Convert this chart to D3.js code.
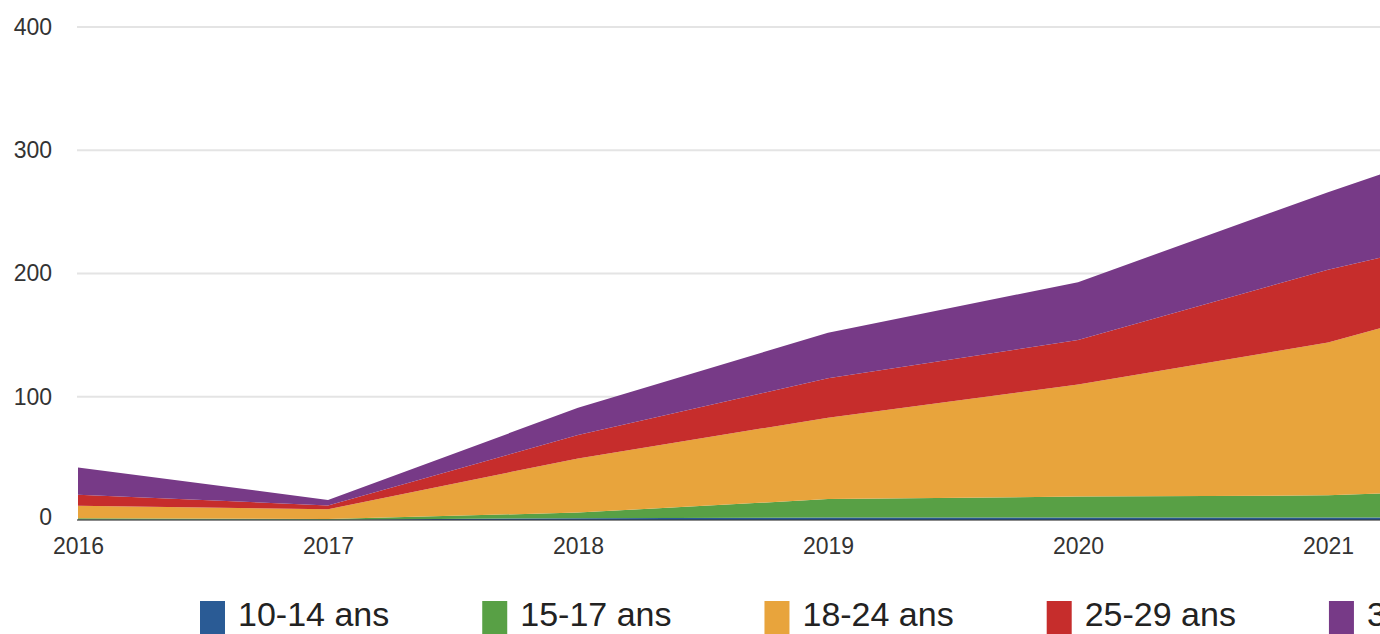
<!DOCTYPE html>
<html>
<head>
<meta charset="utf-8">
<script src="https://cdn.jsdelivr.net/npm/d3@7"></script>
<style>
  html, body { margin: 0; padding: 0; background: #fff; overflow: hidden; }
  svg { display: block; font-family: "Liberation Sans", Arial, sans-serif; }
</style>
</head>
<body>
<svg id="chart"></svg>
<script>
// years on the x axis (2022 sits just past the right edge of the crop)
const years = [2016, 2017, 2018, 2019, 2020, 2021, 2022];

// age groups, bottom to top of the stack
const groups = ["10-14 ans", "15-17 ans", "18-24 ans", "25-29 ans", "30 ans et +"];
const colors = ["#2a5b95", "#58a045", "#e8a43c", "#c62d2c", "#773a87"];

// values, one array per group
const ages10_14 = [0.5, 0.3, 1.5, 2, 2, 2, 2];
const ages15_17 = [1, 0.5, 4.5, 15, 17, 18, 25];
const ages18_24 = [10, 8, 44, 66, 91, 124, 173];
const ages25_29 = [9, 3, 19, 32, 36, 59, 50];
const ages30up = [22, 4.5, 22, 37, 47, 63, 85];

const yTicks = [0, 100, 200, 300, 400];
const xTicks = [2016, 2017, 2018, 2019, 2020, 2021];

const series = [ages10_14, ages15_17, ages18_24, ages25_29, ages30up];

const width = 1380, height = 634;

const svg = d3.select("#chart")
    .attr("width", width)
    .attr("height", height);

// build table rows for the stack
const table = years.map((yr, i) => {
    const row = { year: yr };
    groups.forEach((g, j) => row[g] = series[j][i]);
    return row;
});

const x = d3.scaleLinear()
    .domain([2016, 2022])
    .range([78, 1578]);

const y = d3.scaleLinear()
    .domain([0, 400])
    .range([520, 27]);

// gridlines
svg.append("g")
    .selectAll("line")
    .data(yTicks)
    .join("line")
    .attr("x1", 77)
    .attr("x2", width)
    .attr("y1", d => y(d))
    .attr("y2", d => y(d))
    .attr("stroke", "#e4e4e4")
    .attr("stroke-width", 2);

const stacked = d3.stack().keys(groups)(table);

const area = d3.area()
    .x(d => x(d.data.year))
    .y0(d => y(d[0]))
    .y1(d => y(d[1]));

svg.append("g")
    .selectAll("path")
    .data(stacked)
    .join("path")
    .attr("d", area)
    .attr("fill", (d, i) => colors[i]);

// baseline
svg.append("line")
    .attr("x1", 77).attr("x2", width)
    .attr("y1", y(0)).attr("y2", y(0))
    .attr("stroke", "#333")
    .attr("stroke-width", 1);

// y axis labels
const yAxis = svg.append("g")
    .attr("transform", "translate(52,0)")
    .call(d3.axisLeft(y).tickValues(yTicks).tickSize(0).tickPadding(0));
yAxis.select(".domain").remove();
yAxis.selectAll("text")
    .attr("font-size", 23)
    .attr("fill", "#333")
    .attr("font-family", "Liberation Sans, Arial, sans-serif");
yAxis.selectAll(".tick").filter(d => d === 0).select("text").attr("dy", "0.2em");

// x axis labels
const xAxis = svg.append("g")
    .attr("transform", "translate(0,538)")
    .call(d3.axisBottom(x).tickValues(xTicks).tickFormat(d3.format("d")).tickSize(0).tickPadding(0));
xAxis.select(".domain").remove();
xAxis.selectAll("text")
    .attr("font-size", 23)
    .attr("fill", "#333")
    .attr("font-family", "Liberation Sans, Arial, sans-serif");

// legend, laid out left to right
const legend = svg.append("g");
let lx = 200;
groups.forEach((g, i) => {
    const item = legend.append("g").attr("transform", `translate(${lx},0)`);
    item.append("rect")
        .attr("x", 0).attr("y", 601)
        .attr("width", 25).attr("height", 40)
        .attr("fill", colors[i]);
    const t = item.append("text")
        .attr("x", 38).attr("y", 626)
        .attr("font-size", 34)
        .attr("fill", "#222")
        .text(g);
    lx += 38 + t.node().getComputedTextLength() + 93;
});
</script>
</body>
</html>
